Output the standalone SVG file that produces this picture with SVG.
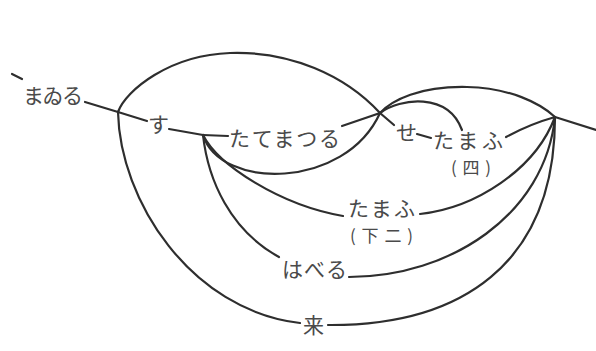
<svg xmlns="http://www.w3.org/2000/svg" width="596" height="351" viewBox="0 0 596 351">
<style>
.lbl{font-family:"Noto Sans CJK JP","Noto Sans CJK SC",sans-serif;font-size:21px;fill:#4a4a4a}
.sub{font-family:"Noto Sans CJK JP","Noto Sans CJK SC",sans-serif;font-size:17px;fill:#4a4a4a}
.c{fill:none;stroke:#2e2e2e;stroke-width:2.2;stroke-linecap:round}
</style>
<rect width="596" height="351" fill="#fff"/>
<g id="connectors">
<path class="c" d="M12,74 L22,79"/>
<path class="c" d="M85,102 L118,112"/>
<path class="c" d="M118,112 L147,121"/>
<path class="c" d="M169,129 L203,135"/>
<path class="c" d="M203,135 L228,136"/>
<path class="c" d="M118,112 C126,90 170,55 230,53 C290,51 345,75 380,113 L394,125"/>
<path class="c" d="M342,126 L380,113 C400,98 448,92 462,130"/>
<path class="c" d="M203,135 C220,190 345,190 380,113 C392,100 420,86 467,87 C510,88 540,103 555,117"/>
<path class="c" d="M555,117 L596,130"/>
<path class="c" d="M417,134 L431,138"/>
<path class="c" d="M506,137 Q530,124 555,117"/>
<path class="c" d="M203,135 C218,165 280,205 343,216"/>
<path class="c" d="M420,214 C475,208 535,170 555,117"/>
<path class="c" d="M203,135 C208,180 230,230 279,257"/>
<path class="c" d="M349,277 C450,277 545,215 555,117"/>
<path class="c" d="M118,112 C120,200 190,310 300,323"/>
<path class="c" d="M328,325 C460,326 555,265 555,117"/>
</g>
<g id="mairu"><text class="lbl" x="23" y="103" textLength="60">まゐる</text></g>
<g id="su"><text class="lbl" x="148" y="132">す</text></g>
<g id="tatematsuru"><text class="lbl" x="229" y="146" textLength="111">たてまつる</text></g>
<g id="se"><text class="lbl" x="396" y="140">せ</text></g>
<g id="tamau-yo">
<text class="lbl" x="433" y="148" textLength="70">たまふ</text>
<text class="sub" x="451" y="174" textLength="40" lengthAdjust="spacing">(四)</text>
</g>
<g id="tamau-shimo2">
<text class="lbl" x="348" y="216" textLength="67">たまふ</text>
<text class="sub" x="350" y="242" textLength="63" lengthAdjust="spacing">(下二)</text>
</g>
<g id="haberu"><text class="lbl" x="282" y="277" textLength="65">はべる</text></g>
<g id="ku"><text class="lbl" x="303" y="333">来</text></g>
</svg>
